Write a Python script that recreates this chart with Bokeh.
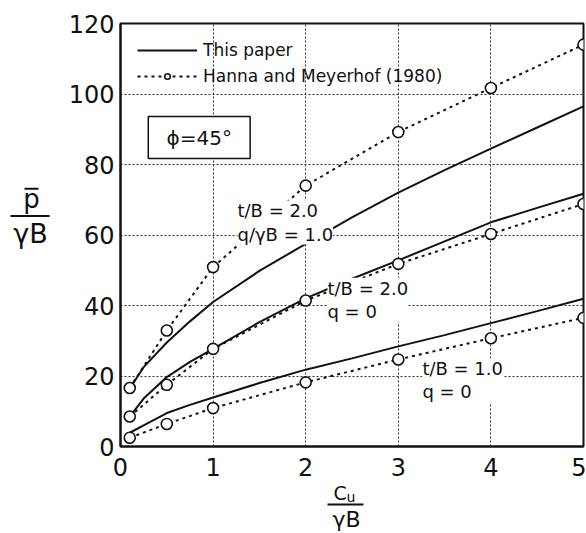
from bokeh.plotting import figure
from bokeh.layouts import column, row
from bokeh.models import Label, Legend, LegendItem, FixedTicker, Range1d, BoxAnnotation
from bokeh.embed import file_html
from bokeh.resources import INLINE

# ---- data ----
x_paper = [0.1, 0.25, 0.5, 0.75, 1, 1.5, 2, 2.5, 3, 3.5, 4, 4.5, 5]
paper_t2_q1 = [16.5, 22.5, 29.5, 35.5, 41, 49.8, 57.5, 65, 72, 78.4, 84.5, 90.5, 96.5]
paper_t2_q0 = [8.5, 13.6, 19.7, 24, 27.7, 35.3, 42, 47.6, 52.8, 58.2, 63.6, 67.7, 71.7]
paper_t1_q0 = [3.9, 6, 9.5, 11.8, 13.9, 18, 21.8, 25, 28.4, 31.6, 35, 38.4, 41.9]

x_hm = [0.1, 0.5, 1, 2, 3, 4, 5]
hm_t2_q1 = [16.6, 32.9, 50.9, 74.0, 89.2, 101.7, 114.0]
hm_t2_q0 = [8.5, 17.5, 27.7, 41.4, 51.8, 60.3, 68.8]
hm_t1_q0 = [2.5, 6.4, 10.9, 18.2, 24.7, 30.7, 36.5]

x_ticks = [0, 1, 2, 3, 4, 5]
y_ticks = [0, 20, 40, 60, 80, 100, 120]

FONT = "DejaVu Sans"
INK = "#111111"

# ---------------- main plot ----------------
p = figure(width=526, height=481, x_range=Range1d(0, 5), y_range=Range1d(0, 120),
           output_backend="svg", toolbar_location=None,
           min_border_left=60, min_border_right=3, min_border_top=23, min_border_bottom=35)

p.outline_line_color = INK
p.outline_line_width = 2
p.background_fill_color = "white"
p.border_fill_color = "white"

for ax in (p.xaxis[0], p.yaxis[0]):
    ax.axis_line_color = INK
    ax.axis_line_width = 2
    ax.major_tick_line_color = None
    ax.minor_tick_line_color = None
    ax.major_label_text_font = FONT
    ax.major_label_text_font_size = "24px"
    ax.major_label_text_color = INK
p.xaxis[0].ticker = FixedTicker(ticks=x_ticks)
p.yaxis[0].ticker = FixedTicker(ticks=y_ticks)
p.xaxis[0].major_label_standoff = 5
p.yaxis[0].major_label_standoff = 0

for g in (p.xgrid[0], p.ygrid[0]):
    g.grid_line_color = "#333333"
    g.grid_line_width = 1
    g.grid_line_dash = "2 2"
p.xgrid[0].ticker = FixedTicker(ticks=x_ticks)
p.ygrid[0].ticker = FixedTicker(ticks=y_ticks)

solid = []
for ys in (paper_t2_q1, paper_t2_q0, paper_t1_q0):
    solid.append(p.line(x_paper, ys, line_color=INK, line_width=2))

dots = []
circs = []
for ys in (hm_t2_q1, hm_t2_q0, hm_t1_q0):
    dots.append(p.line(x_hm, ys, line_color=INK, line_width=2, line_dash="3 4"))
    circs.append(p.scatter(x_hm, ys, marker="circle", size=11, fill_color="white",
                           line_color=INK, line_width=1.6))

legend = Legend(items=[LegendItem(label="This paper", renderers=[solid[0]]),
                       LegendItem(label="Hanna and Meyerhof (1980)", renderers=[dots[0], circs[0]])],
                location="top_left", margin=17, padding=6, spacing=6,
                glyph_width=60, glyph_height=14, label_height=14, label_standoff=6,
                border_line_color=None, background_fill_alpha=0,
                label_text_font=FONT, label_text_font_size="17px", label_text_color=INK)
p.add_layout(legend)

# phi box
p.add_layout(BoxAnnotation(left=0.30, right=1.40, bottom=81.7, top=93.6,
                           fill_color="white", fill_alpha=1, line_color=INK, line_alpha=1,
                           line_width=1.5))
p.add_layout(Label(x=0.85, y=87.6, text="ϕ=45°", text_align="center", text_baseline="middle",
                   text_font=FONT, text_font_size="20px", text_color=INK))

# curve labels
for (lx, ly, txt) in [(1.263, 69.8, "t/B = 2.0\nq/γB = 1.0"),
                      (2.235, 47.9, "t/B = 2.0\nq = 0"),
                      (3.26, 25.0, "t/B = 1.0\nq = 0")]:
    p.add_layout(Label(x=lx, y=ly, text=txt, text_align="left", text_baseline="top",
                       text_font=FONT, text_font_size="18px", text_color=INK,
                       text_line_height=1.1, background_fill_color="white"))

# ---------------- y axis label (fraction) ----------------
yl = figure(width=60, height=481, x_range=Range1d(0, 60), y_range=Range1d(481, 0),
            output_backend="svg", toolbar_location=None, x_axis_type=None, y_axis_type=None,
            min_border=0, min_border_left=0, min_border_right=0, min_border_top=0, min_border_bottom=0)
yl.outline_line_color = None
yl.grid.visible = False
yl.add_layout(Label(x=31, y=199, text="p", text_align="center", text_baseline="middle",
                    text_font=FONT, text_font_size="26px", text_color=INK))
yl.segment(x0=[24, 10], y0=[188, 219], x1=[38, 49], y1=[188, 219], line_color=INK, line_width=2)
yl.add_layout(Label(x=30, y=239, text="γB", text_align="center", text_baseline="middle",
                    text_font=FONT, text_font_size="27px", text_color=INK))

# ---------------- x axis label (fraction) ----------------
xl = figure(width=586, height=52, x_range=Range1d(0, 586), y_range=Range1d(52, 0),
            output_backend="svg", toolbar_location=None, x_axis_type=None, y_axis_type=None,
            min_border=0, min_border_left=0, min_border_right=0, min_border_top=0, min_border_bottom=0)
xl.outline_line_color = None
xl.grid.visible = False
xl.add_layout(Label(x=333, y=11.2, text="C", text_align="left", text_baseline="middle",
                    text_font=FONT, text_font_size="19px", text_color=INK))
xl.add_layout(Label(x=346, y=15.5, text="u", text_align="left", text_baseline="middle",
                    text_font=FONT, text_font_size="14px", text_color=INK))
xl.segment(x0=[327], y0=[23], x1=[363], y1=[23], line_color=INK, line_width=2)
xl.add_layout(Label(x=346, y=38, text="γB", text_align="center", text_baseline="middle",
                    text_font=FONT, text_font_size="22px", text_color=INK))

layout = column(row(yl, p, spacing=0), xl, spacing=0)
open("out.html", "w").write(file_html(layout, INLINE))
